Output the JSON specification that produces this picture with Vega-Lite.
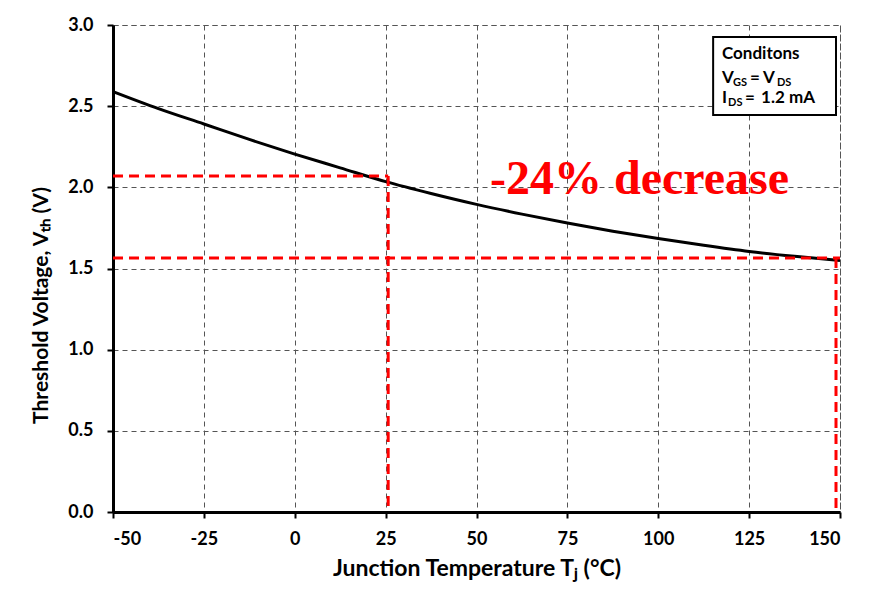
{
  "$schema": "https://vega.github.io/schema/vega-lite/v6.json",
  "width": 727,
  "height": 487,
  "autosize": "none",
  "padding": {"left": 113, "top": 25, "right": 34, "bottom": 94},
  "background": "white",
  "config": {
    "view": {"stroke": "#555", "strokeDash": [5, 4], "strokeWidth": 1},
    "font": "Lato",
    "axis": {
      "labelFont": "Lato", "labelFontWeight": "bold", "labelFontSize": 18, "labelColor": "black",
      "titleFont": "Lato", "titleFontWeight": "bold", "titleFontSize": 22, "titleColor": "black",
      "domainColor": "black", "domainWidth": 3, "tickColor": "black", "tickWidth": 2, "tickSize": 6,
      "gridColor": "#555", "gridDash": [5, 4], "gridWidth": 1, "gridOpacity": 1,
      "labelExpr": "replace(datum.label, '−', '-')"
    }
  },
  "datasets": {
    "curve": [
      {"T": -50, "V": 2.59}, {"T": -37.5, "V": 2.485}, {"T": -25, "V": 2.39}, {"T": -12.5, "V": 2.295},
      {"T": 0, "V": 2.205}, {"T": 12.5, "V": 2.12}, {"T": 25, "V": 2.035}, {"T": 37.5, "V": 1.962},
      {"T": 50, "V": 1.895}, {"T": 62.5, "V": 1.835}, {"T": 75, "V": 1.78}, {"T": 87.5, "V": 1.73},
      {"T": 100, "V": 1.685}, {"T": 112.5, "V": 1.643}, {"T": 125, "V": 1.605}, {"T": 137.5, "V": 1.575},
      {"T": 150, "V": 1.55}
    ],
    "refs": [
      {"seg": "h1", "T": -50, "V": 2.07}, {"seg": "h1", "T": 25.7, "V": 2.07},
      {"seg": "v1", "T": 25.7, "V": 2.07}, {"seg": "v1", "T": 25.7, "V": 0},
      {"seg": "h2", "T": -50, "V": 1.565}, {"seg": "h2", "T": 150, "V": 1.565},
      {"seg": "v2", "T": 148.9, "V": 1.565}, {"seg": "v2", "T": 148.9, "V": 0}
    ],
    "box": [{"T1": 115.1, "T2": 148.9, "V1": 2.926, "V2": 2.446}],
    "boxText": [
      {"T": 117.54, "V": 2.79, "label": "Conditons", "size": 17},
      {"T": 117.54, "V": 2.643, "label": "V", "size": 17},
      {"T": 120.56, "V": 2.624, "label": "GS", "size": 11},
      {"T": 125.24, "V": 2.643, "label": "=", "size": 17},
      {"T": 128.82, "V": 2.643, "label": "V", "size": 17},
      {"T": 132.65, "V": 2.624, "label": "DS", "size": 11},
      {"T": 117.54, "V": 2.52, "label": "I", "size": 17},
      {"T": 119.2, "V": 2.501, "label": "DS", "size": 11},
      {"T": 123.87, "V": 2.52, "label": "=", "size": 17},
      {"T": 128.3, "V": 2.52, "label": "1.2 mA", "size": 17}
    ],
    "note": [{"T": 53.7, "V": 1.96, "label": "-24% decrease"}]
  },
  "layer": [
    {
      "data": {"name": "curve"},
      "mark": {"type": "line", "color": "black", "strokeWidth": 3, "interpolate": "monotone"},
      "encoding": {
        "x": {"field": "T", "type": "quantitative", "scale": {"domain": [-50, 150], "nice": false},
          "axis": {"values": [-50, -25, 0, 25, 50, 75, 100, 125, 150], "title": "Junction Temperature Tⱼ (°C)", "titleFontSize": 23, "labelPadding": 12, "titlePadding": 9}},
        "y": {"field": "V", "type": "quantitative", "scale": {"domain": [0, 3], "nice": false},
          "axis": {"values": [0, 0.5, 1, 1.5, 2, 2.5, 3], "format": ".1f", "title": "Threshold Voltage, Vₜₕ (V)", "titleFontSize": 21, "titleY": 280, "labelPadding": 14, "titlePadding": 16}}
      }
    },
    {
      "data": {"name": "refs"},
      "mark": {"type": "line", "color": "#ff0000", "strokeWidth": 3, "strokeDash": [10, 6]},
      "encoding": {
        "x": {"field": "T", "type": "quantitative"},
        "y": {"field": "V", "type": "quantitative"},
        "detail": {"field": "seg"}
      }
    },
    {
      "data": {"name": "box"},
      "mark": {"type": "rect", "fill": "white", "stroke": "black", "strokeWidth": 2},
      "encoding": {
        "x": {"field": "T1", "type": "quantitative"},
        "x2": {"field": "T2"},
        "y": {"field": "V1", "type": "quantitative"},
        "y2": {"field": "V2"}
      }
    },
    {
      "data": {"name": "boxText"},
      "mark": {"type": "text", "align": "left", "baseline": "alphabetic", "font": "Lato", "fontWeight": "bold", "color": "black"},
      "encoding": {
        "x": {"field": "T", "type": "quantitative"},
        "y": {"field": "V", "type": "quantitative"},
        "text": {"field": "label"},
        "size": {"field": "size", "type": "quantitative", "scale": null}
      }
    },
    {
      "data": {"name": "note"},
      "mark": {"type": "text", "align": "left", "baseline": "alphabetic", "font": "Liberation Serif", "fontWeight": "bold", "fontSize": 48, "color": "#ff0000"},
      "encoding": {
        "x": {"field": "T", "type": "quantitative"},
        "y": {"field": "V", "type": "quantitative"},
        "text": {"field": "label"}
      }
    }
  ]
}
